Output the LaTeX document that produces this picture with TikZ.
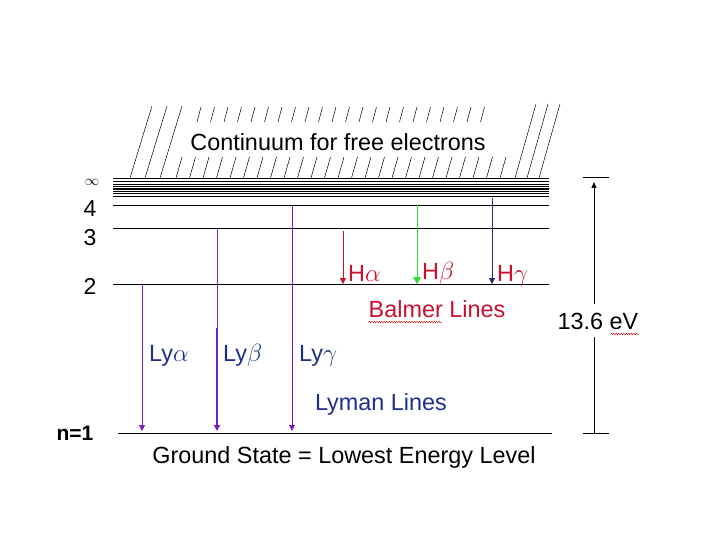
\documentclass[tikz,border=0pt]{standalone}
\usepackage{fontspec}
\setmainfont{Liberation Sans}
\usetikzlibrary{arrows.meta,calc,decorations.pathmorphing}
\definecolor{lyman}{HTML}{7A1FBF}
\definecolor{lytext}{HTML}{1F2E8C}
\definecolor{balred}{HTML}{C8102E}
\definecolor{hbeta}{HTML}{33DD33}
\definecolor{hgamma}{HTML}{1C2A78}
\tikzset{
  level/.style={line width=0.7pt,black},
  hatch/.style={line width=0.5pt,black},
  lbl/.style={font=\fontsize{23.4}{27}\selectfont,text=black,anchor=base,inner sep=0pt},
  num/.style={font=\fontsize{23}{27}\selectfont,anchor=base,inner sep=0pt},
  lylbl/.style={lbl,text=lytext,anchor=base west},
  hlbl/.style={lbl,text=balred,anchor=base west},
  lyarrow/.style={-{Triangle[length=6pt,width=6pt]},line width=0.8pt,color=lyman},
  harrow/.style={-{Triangle[length=6pt,width=6pt]},line width=0.8pt,color=#1},
  squiggle/.style={decorate,decoration={snake,amplitude=0.8pt,segment length=2.5pt},draw=red!80!black,line width=0.4pt},
}

\begin{document}
\begin{tikzpicture}[x=1pt,y=-1pt]
  \useasboundingbox (0,0) rectangle (720,540);
  % continuum hatching
  \foreach \x in {130,145,160} \draw[hatch] (\x,178) -- (\x+22,106);
  \foreach \x in {197,210.5,...,490} \draw[hatch] (\x,122) -- (\x+4,107);
  \foreach \x in {176,189.5,...,506} \draw[hatch] (\x,178) -- (\x+6,157);
  \foreach \x in {515,527,539} \draw[hatch] (\x,178) -- (\x+21,104);
  \node[lbl] (cont) at (338,151) {Continuum for free electrons};
  % levels crowding towards the limit
  \foreach \y/\w in {178/0.6,181.5/0.6,184.3/0.6,186.7/0.6,189/1.1,191.2/1.1,193.5/0.6,196/0.6}
    \draw[line width=\w pt] (113,\y) -- (549,\y);
  % bound levels
  \foreach \n/\y in {4/205,3/228,2/284} {
    \coordinate (l\n w) at (113,\y);
    \coordinate (l\n e) at (549,\y);
    \draw[level] (l\n w) -- (l\n e);
  }
  \coordinate (l1w) at (118,433);
  \coordinate (l1e) at (552,433);
  \draw[level] (l1w) -- (l1e);
  \node[num,anchor=center,font=\fontsize{15}{18}\selectfont] (ninf) at (92,182.5) {$\infty$};
  \node[num] (n4) at (90,216) {4};
  \node[num] (n3) at (90,245) {3};
  \node[num] (n2) at (90,294) {2};
  \node[num,font=\fontsize{21}{24}\selectfont\bfseries] (n1) at (75,440) {n=1};
  \node[lbl] (ground) at (344,463) {Ground State = Lowest Energy Level};
  % Lyman series
  \coordinate (lya-top) at (142,284);
  \coordinate (lya-bot) at (142,431);
  \coordinate (lyb-top) at (217,228);
  \coordinate (lyb-mid) at (217,328);
  \coordinate (lyb-bot) at (217,431);
  \coordinate (lyg-top) at (292,205);
  \coordinate (lyg-bot) at (292,431);
  \draw[lyarrow] (lya-top) -- (lya-bot);
  \draw[lyman,line width=0.8pt] (lyb-top) -- (lyb-mid);
  \draw[lyarrow,line width=1.6pt] (lyb-mid) -- (lyb-bot);
  \draw[lyarrow] (lyg-top) -- (lyg-bot);
  \node[lylbl] (lya) at (149,361) {Ly$\alpha$};
  \node[lylbl] (lyb) at (223,361) {Ly$\beta$};
  \node[lylbl] (lyg) at (299,361) {Ly$\gamma$};
  \node[lbl,text=lytext] (lyman-lines) at (381,410) {Lyman Lines};
  % Balmer series
  \coordinate (ha-top) at (343,231);
  \coordinate (ha-bot) at (343,284);
  \coordinate (hb-top) at (417,205);
  \coordinate (hb-bot) at (417,284);
  \coordinate (hg-top) at (492,198);
  \coordinate (hg-bot) at (492,284);
  \draw[harrow=balred] (ha-top) -- (ha-bot);
  \draw[harrow=hbeta,-{Triangle[length=7pt,width=8pt]}] (hb-top) -- (hb-bot);
  \draw[harrow=hgamma] (hg-top) -- (hg-bot);
  \node[hlbl] (ha) at (348,281) {H$\alpha$};
  \node[hlbl] (hb) at (422,279) {H$\beta$};
  \node[hlbl] (hg) at (497,281) {H$\gamma$};
  \node[lbl,text=balred] (balmer) at (437,317) {Balmer Lines};
  \draw[squiggle] ($(balmer.base west)+(0,5)$) -- ++(73,0);
  % ionisation energy
  \coordinate (evtop) at (594,177);
  \coordinate (evbot) at (594,433);
  \draw[line width=0.7pt] ([xshift=-11pt]evtop) -- ([xshift=15pt]evtop);
  \draw[line width=0.7pt] ([xshift=-11pt]evbot) -- ([xshift=15pt]evbot);
  \node[lbl,anchor=base,inner sep=8pt] (ev) at (598,329) {13.6 eV};
  \draw[-{Triangle[length=6pt,width=5pt]},line width=0.7pt] (ev.north -| evtop) -- ([yshift=-5pt]evtop);
  \draw[line width=0.7pt] (ev.south -| evbot) -- (evbot);
  \draw[squiggle] ($(ev.base east)+(-36,5)$) -- ++(28,0);
\end{tikzpicture}
\end{document}
